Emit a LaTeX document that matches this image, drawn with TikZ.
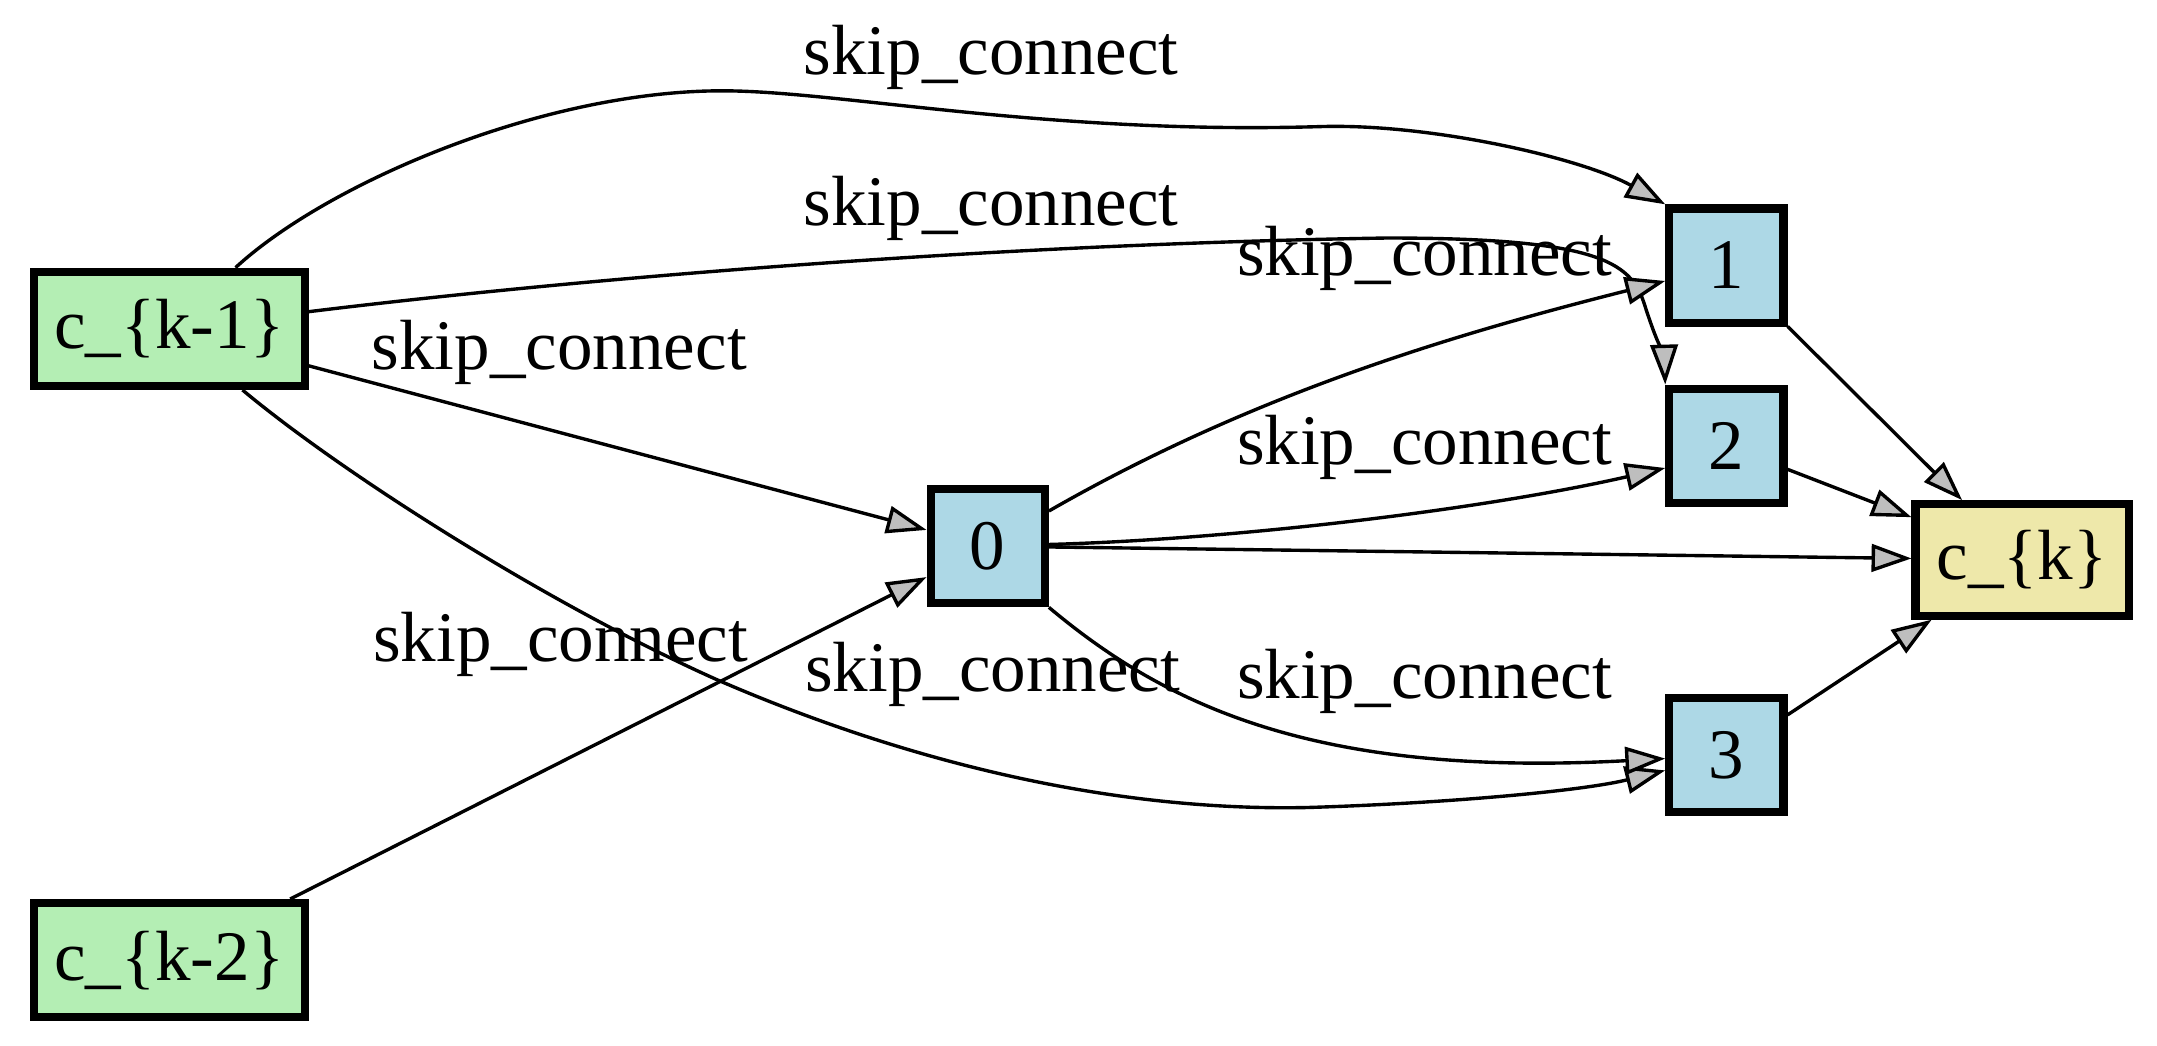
\documentclass[tikz,border=0pt]{standalone}
\usepackage{fontspec}
\setmainfont{Liberation Serif}
\usetikzlibrary{arrows.meta}

\definecolor{inputgreen}{HTML}{B4EEB4}
\definecolor{opblue}{HTML}{ADD8E6}
\definecolor{outyellow}{HTML}{EEE8AA}
\definecolor{tipgray}{HTML}{BEBEBE}

\tikzset{
  cell/.style={draw, line width=1.7pt, inner sep=0pt},
  inputcell/.style={cell, fill=inputgreen, minimum width=19.7mm, minimum height=8.3mm},
  opcell/.style={cell, fill=opblue, minimum width=8.3mm, minimum height=8.3mm},
  outcell/.style={cell, fill=outyellow, minimum width=15.5mm, minimum height=8.1mm},
  oplabel/.style={anchor=base west, inner sep=0pt},
}

\begin{document}
\begin{tikzpicture}[x=0.1mm, y=-0.1mm, line width=0.7pt,
  >={Triangle[length=2.9mm, width=2mm, fill=tipgray]},
  font=\fontsize{14.7}{17}\selectfont]

\def \colx {1255}

\useasboundingbox (0,0) rectangle (1568,760);

\node (k1) [inputcell] at (123,239) {c\_\{k-1\}};
\node (k2) [inputcell] at (123,698) {c\_\{k-2\}};
\node (n0) [opcell] at (718,397) {0};

\foreach \i/\y in {1/193, 2/324, 3/549}
{
  \node (n\i) [opcell] at (\colx,\y) {\i};
}

\node (ck) [outcell] at (1470,407) {c\_\{k\}};

\foreach \x/\y [count=\j] in {583/54.5, 583/164, 269/268.6, 270/481, 584/503, 898/200, 898/338, 898/508}
{
  \node (lbl\j) [oplabel] at (\x,\y) {skip\_connect};
}

\draw[->] (k1) .. controls (238,133) and (395,66) .. (525,66)
  .. controls (610,66) and (760,98) .. (960,92)
  .. controls (1040,89.6) and (1150,115) .. (n1.north west);
\draw[->] (k1) .. controls (400,205) and (700,178) .. (1008,173)
  .. controls (1160,173) and (1185,190) .. (1195,220)
  .. controls (1203,245) and (1210,262) .. (n2.north west);
\draw[->] (k1) -- (n0);
\draw[->] (k1) .. controls (250,345) and (400,440) .. (521,494)
  .. controls (650,550) and (800,590) .. (950,587)
  .. controls (1050,584) and (1150,575) .. (n3);
\draw[->] (k2) -- (n0);

\draw[->] (n0) .. controls (913,285) and (1061,242) .. (n1);
\draw[->] (n0) .. controls (900,392) and (1080,370) .. (n2.200);
\draw[->] (n0.south east) .. controls (850,515) and (960,565) .. (n3);

\foreach \i in {0,...,3}
{
  \draw[->] (n\i) -- (ck);
}

\end{tikzpicture}
\end{document}
